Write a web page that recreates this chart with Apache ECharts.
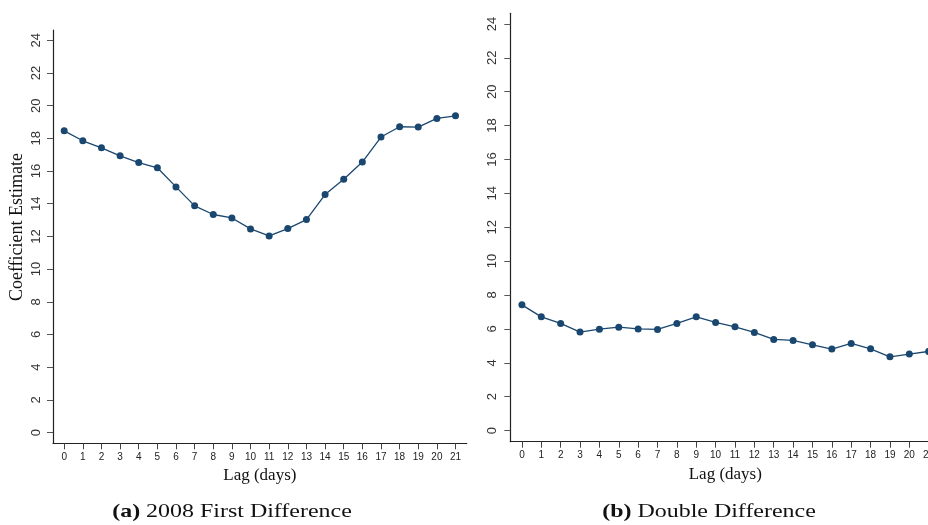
<!DOCTYPE html>
<html>
<head>
<meta charset="utf-8">
<title>Lag coefficient estimates</title>
<script src="https://cdn.jsdelivr.net/npm/echarts@6/dist/echarts.min.js"></script>
<style>
  html, body { margin: 0; padding: 0; background: #fff; }
  #chart { width: 928px; height: 525px; }
</style>
</head>
<body>
<div id="chart"></div>
<script>
// Lag in days (x axis)
const lags = [0, 1, 2, 3, 4, 5, 6, 7, 8, 9, 10, 11, 12, 13, 14, 15, 16, 17, 18, 19, 20, 21];

// (a) 2008 first-difference coefficient estimates by lag
const firstDiff = [18.46, 17.85, 17.42, 16.93, 16.52, 16.2, 15.03, 13.87, 13.34, 13.13, 12.46,
                   12.03, 12.48, 13.03, 14.56, 15.5, 16.55, 18.08, 18.71, 18.69, 19.22, 19.38];

// (b) double-difference coefficient estimates by lag
const doubleDiff = [7.42, 6.71, 6.32, 5.81, 5.98, 6.1, 6.0, 5.97, 6.32, 6.71, 6.38,
                    6.12, 5.79, 5.38, 5.32, 5.06, 4.81, 5.14, 4.82, 4.35, 4.51, 4.67];

// Tick labels
const yTicks = [0, 2, 4, 6, 8, 10, 12, 14, 16, 18, 20, 22, 24];
const xTicks = lags.slice();

const yTitle = 'Coefficient Estimate';
const xTitle = 'Lag (days)';

const navy = '#1a476f';
const sans = 'Liberation Sans, Arial, sans-serif';
const serif = 'Liberation Serif, Times New Roman, serif';

function xAxisFor(gridIndex) {
  return {
    type: 'value',
    gridIndex: gridIndex,
    min: -0.6,
    max: 21.6,
    name: xTitle,
    nameLocation: 'middle',
    nameGap: 21,
    nameTextStyle: { fontFamily: serif, fontSize: 17, color: '#111' },
    axisLine: { show: true, onZero: false, lineStyle: { color: '#222', width: 1.2 } },
    axisTick: { show: true, length: 6, customValues: xTicks, lineStyle: { color: '#444', width: 1 } },
    axisLabel: { customValues: xTicks, margin: 9, fontFamily: sans, fontSize: 10, color: '#222' },
    splitLine: { show: false }
  };
}

function yAxisFor(gridIndex, margin) {
  return {
    type: 'value',
    gridIndex: gridIndex,
    min: -0.66,
    max: 24.63,
    axisLine: { show: true, onZero: false, lineStyle: { color: '#222', width: 1.2 } },
    axisTick: { show: true, length: 6, customValues: yTicks, lineStyle: { color: '#555', width: 1 } },
    axisLabel: { customValues: yTicks, rotate: 90, margin: margin, fontFamily: sans, fontSize: 13, color: '#333' },
    splitLine: { show: false }
  };
}

function lineSeries(idx, values) {
  return {
    type: 'line',
    xAxisIndex: idx,
    yAxisIndex: idx,
    data: lags.map((l, i) => [l, values[i]]),
    symbol: 'circle',
    symbolSize: 7,
    showSymbol: true,
    lineStyle: { color: navy, width: 1.3 },
    itemStyle: { color: navy },
    clip: false,
    animation: false
  };
}

function caption(x, tag, text) {
  return {
    type: 'text',
    x: x, y: 512,
    scaleX: 1.26,
    style: {
      text: '{b|' + tag + '} ' + text,
      fontFamily: serif, fontSize: 19, fill: '#111',
      align: 'center', verticalAlign: 'middle',
      rich: { b: { fontFamily: serif, fontSize: 19, fontWeight: 'bold', fill: '#111' } }
    }
  };
}

const chart = echarts.init(document.getElementById('chart'), null, { renderer: 'canvas' });

chart.setOption({
  backgroundColor: '#fff',
  animation: false,
  grid: [
    { left: 53, top: 30, width: 413.7, height: 413.3, outerBoundsMode: 'none' },
    { left: 510.3, top: 13.3, width: 430, height: 428.4, outerBoundsMode: 'none' }
  ],
  xAxis: [xAxisFor(0), xAxisFor(1)],
  yAxis: [yAxisFor(0, 10), yAxisFor(1, 11.5)],
  series: [lineSeries(0, firstDiff), lineSeries(1, doubleDiff)],
  graphic: [
    {
      type: 'text',
      x: 17.5, y: 227,
      rotation: Math.PI / 2,
      style: {
        text: yTitle,
        fontFamily: serif, fontSize: 18, fill: '#111',
        align: 'center', verticalAlign: 'middle'
      }
    },
    caption(232, '(a)', '2008 First Difference'),
    caption(709, '(b)', 'Double Difference')
  ]
});
</script>
</body>
</html>
